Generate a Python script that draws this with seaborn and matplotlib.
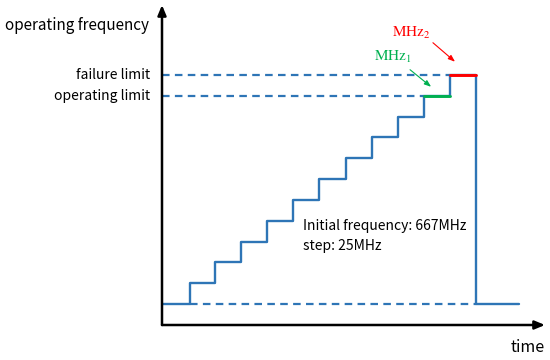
import matplotlib
matplotlib.use("Agg")
import matplotlib.pyplot as plt
import matplotlib.transforms as mtransforms
import seaborn as sns

# step ladder (time in step units, frequency in MHz)
step_times = [0, 1.08, 2.04, 3.04, 4.04, 5.04, 6.04, 7.08, 8.08, 9.08, 10.08]
step_freqs = [667, 692, 717, 742, 767, 792, 817, 842, 867, 892, 917]
fail_time = 11.08
drop_time = 12.08
end_time = 13.73
initial_freq = 667
operating_limit = 917
failure_limit = 942

BLUE = "#2E75B6"
GREEN = "#00B050"
RED = "#FF0000"


def main():
    sns.set_style("white")
    plt.rcParams["font.family"] = ["Noto Sans CJK SC", "DejaVu Sans"]
    plt.rcParams["font.weight"] = "medium"
    plt.rcParams["text.color"] = "black"
    plt.rcParams["mathtext.fontset"] = "stix"

    fig = plt.figure(figsize=(5.5, 3.6), dpi=100)
    ax = fig.add_axes([162 / 550, 35 / 360, 383 / 550, 320 / 360])
    ax.set_xlim(0, 14.73)
    ax.set_ylim(641.8, 1026)
    for s in ax.spines.values():
        s.set_visible(False)
    ax.set_xticks([])
    ax.set_yticks([])

    # axis arrows
    arrow = dict(arrowstyle="-|>,head_length=0.6,head_width=0.25", lw=1.8, color="black",
                 shrinkA=0, shrinkB=0)
    ax.annotate("", xy=(0, 1), xytext=(0, 0), xycoords="axes fraction", arrowprops=arrow)
    ax.annotate("", xy=(1, 0), xytext=(0, 0), xycoords="axes fraction", arrowprops=arrow)

    # dashed reference levels
    dash = (0, (3.4, 2.4))
    ax.hlines(failure_limit, 0, fail_time, colors=BLUE, linestyles=dash, lw=1.6)
    ax.hlines(operating_limit, 0, step_times[-1], colors=BLUE, linestyles=dash, lw=1.6)
    ax.hlines(initial_freq, step_times[1], drop_time, colors=BLUE, linestyles=dash, lw=1.6)

    # frequency trace
    xs = step_times + [fail_time, drop_time, end_time]
    ys = step_freqs + [failure_limit, initial_freq, initial_freq]
    sns.lineplot(x=xs, y=ys, drawstyle="steps-post", color=BLUE, lw=1.7,
                 estimator=None, sort=False, ax=ax)
    sns.lineplot(x=[step_times[-1], fail_time], y=[operating_limit, operating_limit],
                 color=GREEN, lw=2.1, estimator=None, ax=ax)
    sns.lineplot(x=[fail_time, drop_time], y=[failure_limit, failure_limit],
                 color=RED, lw=2.1, estimator=None, ax=ax)

    # level labels
    trans = mtransforms.blended_transform_factory(ax.transAxes, ax.transData)
    ax.text(-0.03, failure_limit, "failure limit", transform=trans, ha="right",
            va="center", fontsize=10)
    ax.text(-0.03, operating_limit, "operating limit", transform=trans, ha="right",
            va="center", fontsize=10)

    # MHz annotations
    ax.text(8.85, 992.7, r"$\mathrm{MHz}_2$", color=RED, fontsize=11, ha="left", va="center")
    ax.text(8.15, 963.9, r"$\mathrm{MHz}_1$", color=GREEN, fontsize=11, ha="left", va="center")
    ax.annotate("", xy=(11.27, 957.9), xytext=(10.42, 980.7),
                arrowprops=dict(arrowstyle="-|>,head_length=0.4,head_width=0.15",
                                color=RED, lw=0.8, shrinkA=0, shrinkB=0))
    ax.annotate("", xy=(10.35, 927.8), xytext=(9.54, 948.3),
                arrowprops=dict(arrowstyle="-|>,head_length=0.4,head_width=0.15",
                                color=GREEN, lw=0.8, shrinkA=0, shrinkB=0))

    ax.text(5.42, 760.7, "Initial frequency: 667MHz", fontsize=10, ha="left", va="center")
    ax.text(5.42, 736.5, "step: 25MHz", fontsize=10, ha="left", va="center")

    fig.text(5 / 550, 1 - 25 / 360, "operating frequency", fontsize=11, ha="left", va="center")
    fig.text(545 / 550, 1 - 348 / 360, "time", fontsize=11.5, ha="right", va="center")

    fig.savefig("out.png", dpi=100)


if __name__ == "__main__":
    main()
